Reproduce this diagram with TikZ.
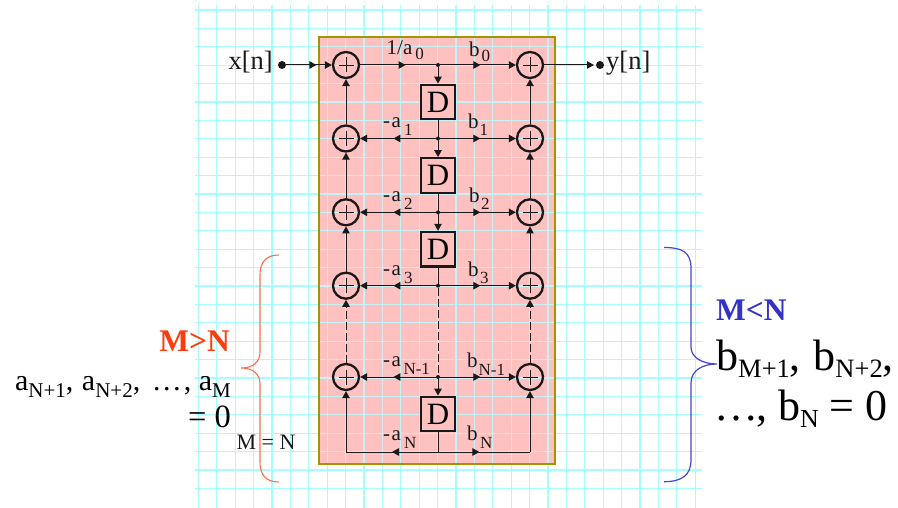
\documentclass[tikz,border=0pt]{standalone}
\usepackage{fontspec}
\setmainfont{Liberation Serif}
\usetikzlibrary{arrows.meta,decorations.markings,calc}
\definecolor{gridc}{RGB}{165,255,255}
\definecolor{gridp}{RGB}{200,240,245}
\definecolor{boxfill}{RGB}{255,192,192}
\definecolor{boxline}{RGB}{160,150,0}
\definecolor{redc}{RGB}{255,60,10}
\definecolor{bluec}{RGB}{50,50,200}
\definecolor{bracer}{RGB}{255,110,80}
\definecolor{braceb}{RGB}{70,70,210}
\definecolor{inkc}{RGB}{25,25,25}
\tikzset{
 x=1pt,y=-1pt,
 tipa/.tip={Triangle[length=7pt,width=7.5pt]},
 wire/.style={draw=inkc,line width=1pt},
 dashwire/.style={wire,dash pattern=on 8pt off 3pt},
 endarrow/.style={-{tipa}},
 midA/.style={postaction={decorate,decoration={markings,mark=at position #1 with {\arrow{tipa}}}}},
 adder/.style={circle,draw=inkc,line width=2.3pt,minimum size=26pt,inner sep=0pt},
 delay/.style={rectangle,draw=inkc,line width=2.3pt,fill=boxfill,minimum size=34.5pt,inner sep=0pt,font=\fontsize{31}{31}\selectfont},
 dotn/.style={circle,fill=inkc,inner sep=0pt,minimum size=4pt},
 bigdot/.style={circle,fill=inkc,inner sep=0pt,minimum size=8pt},
 lab/.style={font=\fontsize{21}{21}\selectfont,inner sep=0pt,text=inkc,anchor=base west},
 iolab/.style={font=\fontsize{26.5}{26.5}\selectfont,inner sep=0pt,text=inkc},
}
\newcommand{\sbb}[4]{#1\kern#3pt\raisebox{-#4pt}{\fontsize{17}{17}\selectfont #2}}
\newcommand{\negA}{-\kern1.5pt a}
\newcommand{\addercross}[1]{\draw[draw=inkc,line width=0.7pt] ($(#1)+(-7.5,0)$) -- ($(#1)+(7.5,0)$) ($(#1)+(0,-7.5)$) -- ($(#1)+(0,7.5)$);}
\begin{document}
\begin{tikzpicture}
\useasboundingbox (0,0) rectangle (898,508);
\fill[white] (0,0) rectangle (898,508);
% grid
\foreach \k in {0,...,27}{
  \draw[gridc,line width=1.2pt] ({198.3+18.4*\k},5) -- ({198.3+18.4*\k},508);
}
\foreach \k in {0,...,26}{
  \draw[gridc,line width=1.2pt] (195,{10+18.4*\k}) -- (702,{10+18.4*\k});
}
% panel
\fill[boxfill] (319,37) rectangle (555,464);
\begin{scope}
\clip (319,37) rectangle (555,464);
\foreach \k in {0,...,27}{
  \draw[gridp,line width=1.2pt] ({198.3+18.4*\k},5) -- ({198.3+18.4*\k},508);
}
\foreach \k in {0,...,26}{
  \draw[gridp,line width=1.2pt] (195,{10+18.4*\k}) -- (702,{10+18.4*\k});
}
\end{scope}
\node[draw=boxline,line width=2.6pt,minimum width=236pt,minimum height=427pt,inner sep=0pt] (panel) at (437,250.5) {};
% nodes
\foreach \n/\yy in {0/65,1/138.5,2/212.3,3/285.7,4/377}{
  \node[adder] (L\n) at (346,\yy) {};
  \node[adder] (R\n) at (530,\yy) {};
  \addercross{L\n}
  \addercross{R\n}
  \node[dotn] (J\n) at (438,\yy) {};
}
\node[delay] (D1) at (438,102) {D};
\node[delay] (D2) at (438,175.5) {D};
\node[delay] (D3) at (438,249.2) {D};
\node[delay] (D4) at (438,414) {D};
\coordinate (JB) at (438,452);
\coordinate (LB) at (346,452);
\coordinate (RB) at (530,452);
% input / output
\node[iolab,anchor=base east] (xin) at (273,70) {x[n]};
\node[bigdot] (xd) at (282,65) {};
\draw[wire,midA=0.66,endarrow] (xd) -- (L0);
\node[iolab,anchor=base west] (yout) at (606,70) {y[n]};
\node[bigdot] (yd) at (600,65) {};
\draw[wire,-{tipa}] (R0) -- ($(yd)+(-6,0)$);
% top row
\draw[wire,midA=0.6] (L0) -- (J0);
\draw[wire,midA=0.53,endarrow] (J0) -- (R0);
% vertical centre
\draw[wire,endarrow] (J0) -- (D1);
\draw[wire,endarrow] (D1) -- (D2);
\draw[wire,endarrow] (D2) -- (D3);
\draw[wire] (D3) -- (J3);
\draw[dashwire] (J3) -- (J4);
\draw[wire,endarrow] (J4) -- (D4);
\draw[wire] (D4) -- (JB);
% rows
\foreach \n in {1,2,3,4}{
  \draw[wire,midA=0.56,endarrow] (J\n) -- (L\n);
  \draw[wire,midA=0.53,endarrow] (J\n) -- (R\n);
}
% side verticals
\foreach \a/\b in {1/0,2/1,3/2}{
  \draw[wire,endarrow] (L\a) -- (L\b);
  \draw[wire,endarrow] (R\a) -- (R\b);
}
\draw[dashwire,endarrow] (L4) -- (L3);
\draw[dashwire,endarrow] (R4) -- (R3);
\draw[wire,endarrow] (LB) -- (L4);
\draw[wire,endarrow] (RB) -- (R4);
\draw[wire,midA=0.5] (JB) -- (LB);
\draw[wire,midA=0.45] (JB) -- (RB);
% coefficient labels
\node[lab] (c0) at (386.5,55) {\sbb{1/a}{0}{3}{5}};
\node[lab] (d0) at (469,56.5) {\sbb{b}{0}{2}{5}};
\node[lab] (c1) at (383,128) {\sbb{\negA}{1}{3}{8}};
\node[lab] (d1) at (468,128.5) {\sbb{b}{1}{1}{7}};
\node[lab] (c2) at (383,201.7) {\sbb{\negA}{2}{3}{8}};
\node[lab] (d2) at (469,202.7) {\sbb{b}{2}{1.5}{7}};
\node[lab] (c3) at (383,275.5) {\sbb{\negA}{3}{3}{8}};
\node[lab] (d3) at (468,276.5) {\sbb{b}{3}{1.5}{7}};
\node[lab] (c4) at (383,366) {\sbb{\negA}{N-1}{2.5}{9}};
\node[lab] (d4) at (467,367) {\sbb{b}{N-1}{1}{8}};
\node[lab] (c5) at (383,440) {\sbb{\negA}{N}{3}{8}};
\node[lab] (d5) at (467,440) {\sbb{b}{N}{2.5}{8}};
% left brace
\draw[bracer,line width=1.1pt] (279,255) .. controls (266,255) and (260,262) .. (260,275) -- (260,352) .. controls (260,362) and (253,368) .. (241,368) .. controls (253,368) and (260,374) .. (260,384) -- (260,462) .. controls (260,475) and (266,482) .. (279,482);
\node[font=\fontsize{31.5}{31.5}\selectfont\bfseries,text=redc,inner sep=0pt,anchor=base east] (mgt) at (230,351) {M>N};
\node[font=\fontsize{30}{30}\selectfont,inner sep=0pt,anchor=base east] (aeq) at (231,390) {a\raisebox{-7.5pt}{\fontsize{21}{21}\selectfont N+1}, \kern1pt a\raisebox{-7.5pt}{\fontsize{21}{21}\selectfont N+2}, \kern4pt\ldots\kern2pt, a\raisebox{-7.5pt}{\fontsize{21}{21}\selectfont M}};
\node[font=\fontsize{32.5}{32.5}\selectfont,inner sep=0pt,anchor=base east] (aeq2) at (231,427.5) {= 0};
\node[font=\fontsize{22}{22}\selectfont,inner sep=0pt,text=inkc,anchor=base] (meq) at (266,449) {M = N};
% right brace
\draw[braceb,line width=1.2pt] (664,247.5) .. controls (682,247.5) and (691,252) .. (691,268) -- (691,347) .. controls (691,358) and (703,364) .. (717,364) .. controls (703,364) and (691,370) .. (691,383) -- (691,460) .. controls (691,475) and (682,481.7) .. (664,481.7);
\node[font=\fontsize{31.5}{31.5}\selectfont\bfseries,text=bluec,inner sep=0pt,anchor=base west] (mlt) at (716,320.7) {M<N};
\node[font=\fontsize{44}{44}\selectfont,inner sep=0pt,anchor=base west] (beq) at (716,370) {b\raisebox{-7pt}{\fontsize{26.5}{26.5}\selectfont M+1}, \kern1.5pt b\raisebox{-7pt}{\fontsize{26.5}{26.5}\selectfont N+2},};
\node[font=\fontsize{44}{44}\selectfont,inner sep=0pt,anchor=base east] (beq2) at (888,420.7) {\kern-2pt\ldots\kern-2pt, b\raisebox{-7pt}{\fontsize{26}{26}\selectfont N} = 0};
\end{tikzpicture}
\end{document}
